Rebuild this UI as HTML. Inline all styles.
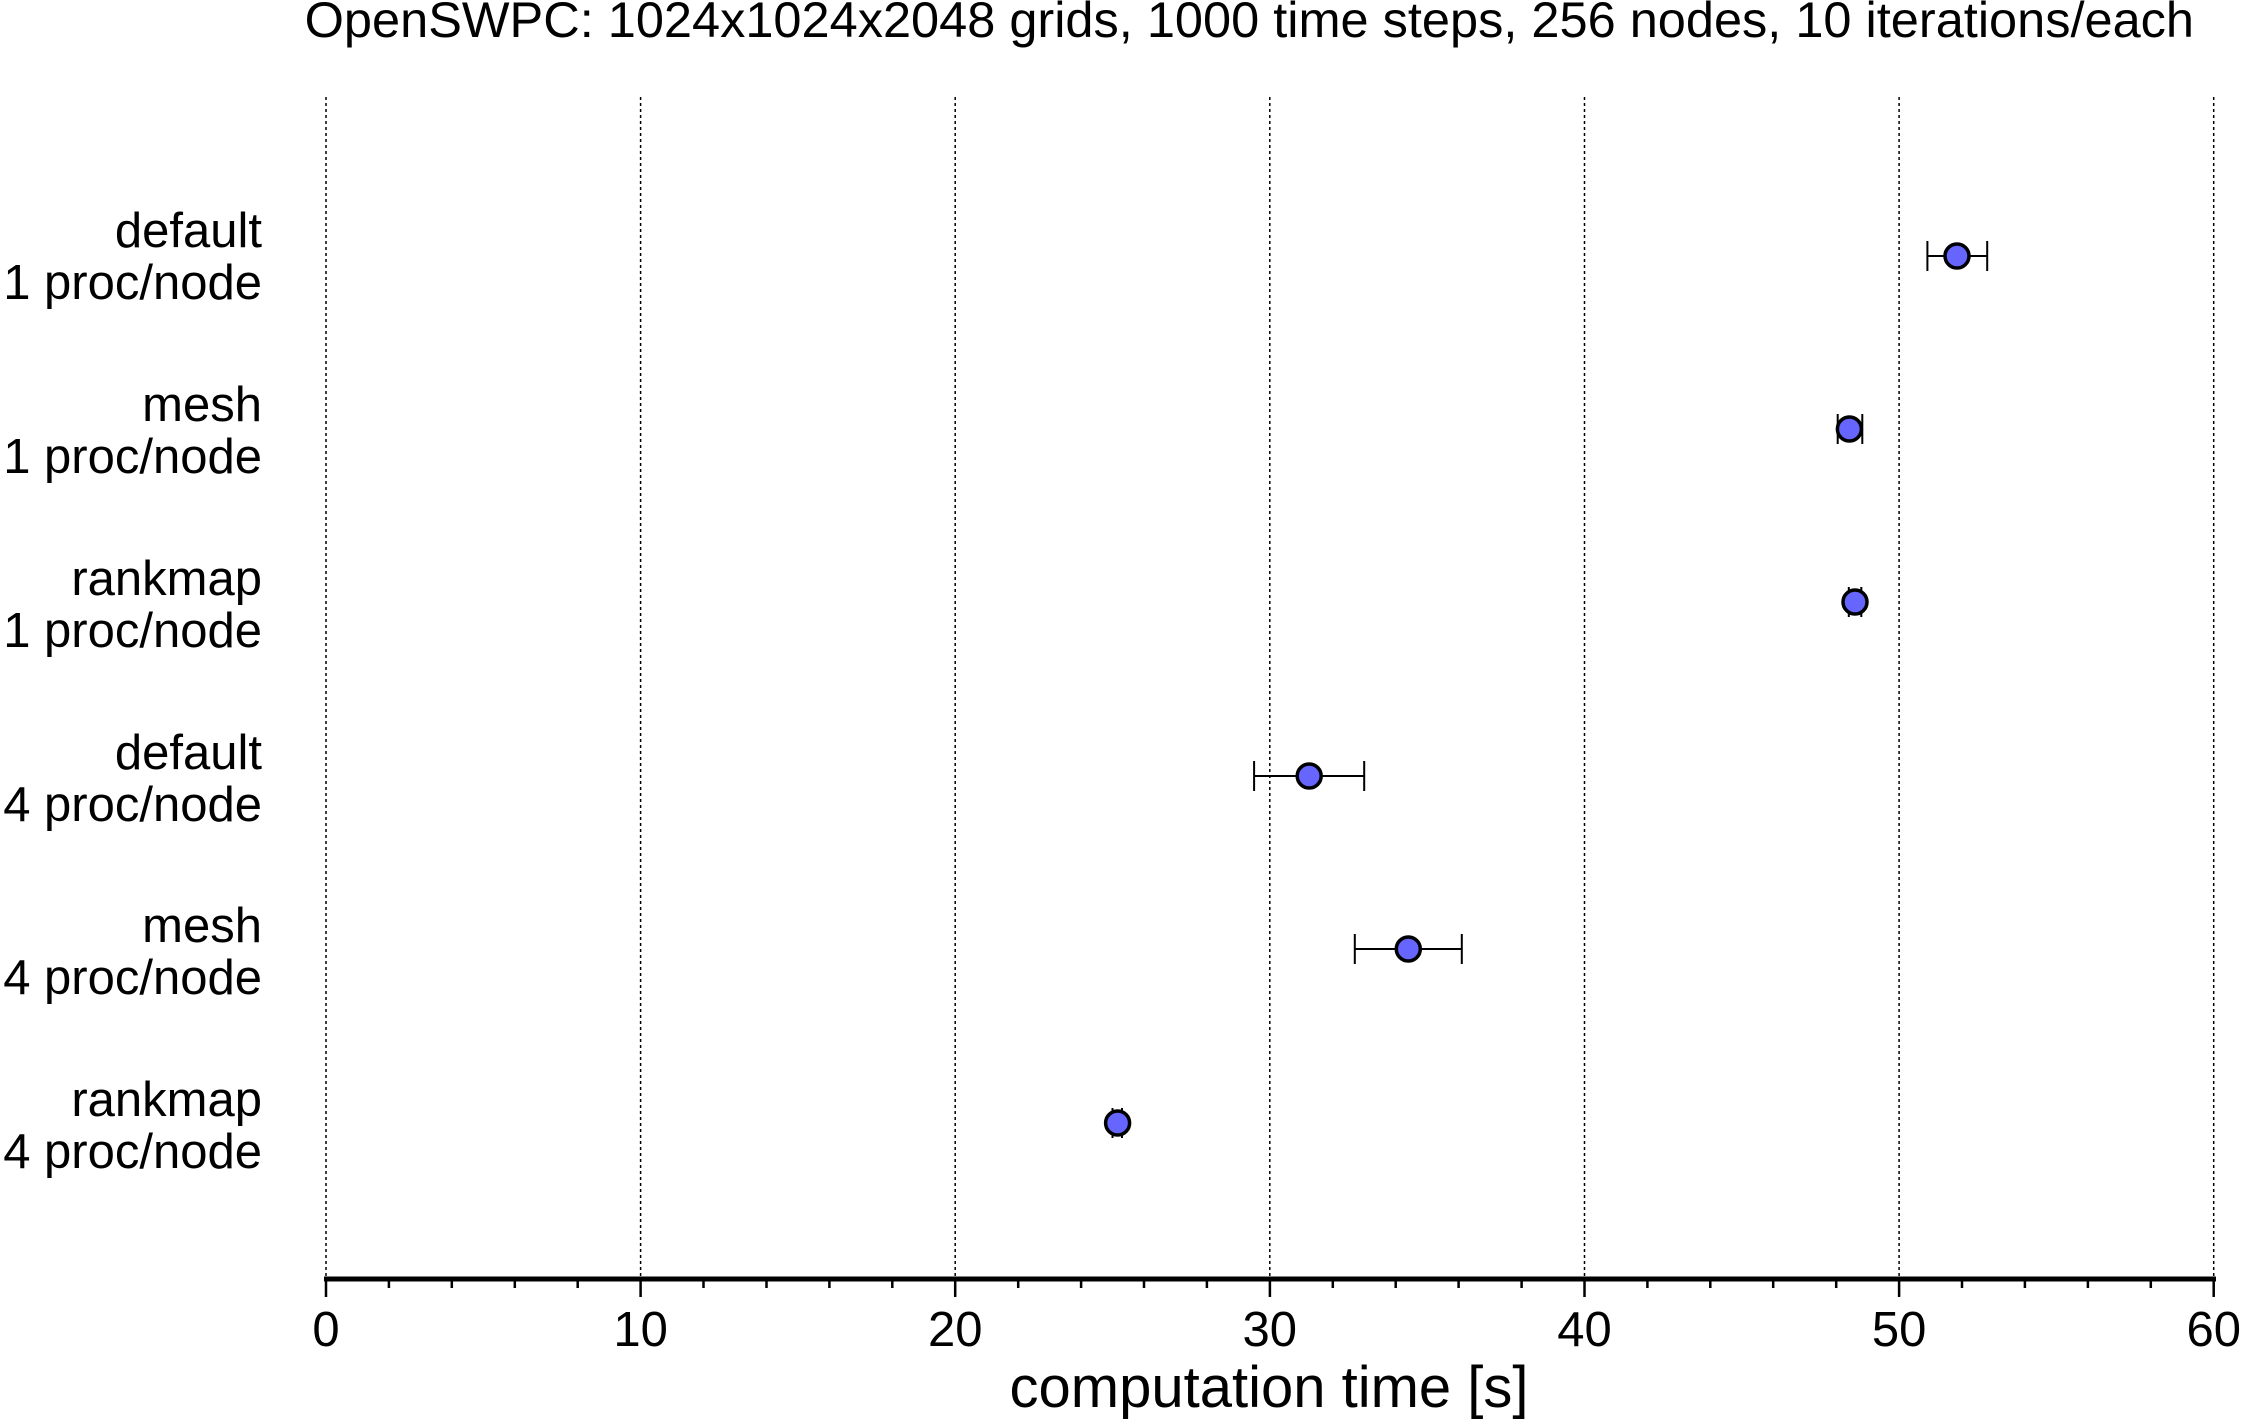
<!DOCTYPE html>
<html><head><meta charset="utf-8"><style>body{margin:0;background:#fff}</style></head><body>
<svg width="2241" height="1422" xmlns="http://www.w3.org/2000/svg" font-family="Liberation Sans, sans-serif">
<rect width="2241" height="1422" fill="#fff"/>
<text x="2194" y="37" font-size="50.5" text-anchor="end">OpenSWPC: 1024x1024x2048 grids, 1000 time steps, 256 nodes, 10 iterations/each</text>
<g stroke="#000" stroke-width="1.5" stroke-dasharray="3,3">
<line x1="326" y1="97" x2="326" y2="1279"/><line x1="640.6" y1="97" x2="640.6" y2="1279"/><line x1="955.2" y1="97" x2="955.2" y2="1279"/><line x1="1269.8" y1="97" x2="1269.8" y2="1279"/><line x1="1584.5" y1="97" x2="1584.5" y2="1279"/><line x1="1899.1" y1="97" x2="1899.1" y2="1279"/><line x1="2213.7" y1="97" x2="2213.7" y2="1279"/>
</g>
<line x1="324" y1="1279" x2="2216" y2="1279" stroke="#000" stroke-width="5"/>
<path stroke="#000" stroke-width="2.5" fill="none" d="M326 1279v18M640.6 1279v18M955.2 1279v18M1269.9 1279v18M1584.5 1279v18M1899.1 1279v18M2213.7 1279v18
M388.9 1279v9M451.8 1279v9M514.8 1279v9M577.7 1279v9M703.5 1279v9M766.5 1279v9M829.4 1279v9M892.3 1279v9M1018.2 1279v9M1081.1 1279v9M1144 1279v9M1206.9 1279v9M1332.8 1279v9M1395.7 1279v9M1458.6 1279v9M1521.6 1279v9M1647.4 1279v9M1710.3 1279v9M1773.2 1279v9M1836.2 1279v9M1962 1279v9M2024.9 1279v9M2087.9 1279v9M2150.8 1279v9"/>
<g font-size="49" text-anchor="middle">
<text x="326" y="1346">0</text><text x="640.6" y="1346">10</text><text x="955.2" y="1346">20</text><text x="1269.8" y="1346">30</text><text x="1584.5" y="1346">40</text><text x="1899.1" y="1346">50</text><text x="2213.7" y="1346">60</text>
</g>
<text x="1269" y="1407" font-size="58" text-anchor="middle">computation time [s]</text>
<g font-size="49" text-anchor="end">
<text x="262" y="247">default</text><text x="262" y="299">1 proc/node</text>
<text x="262" y="421">mesh</text><text x="262" y="473">1 proc/node</text>
<text x="262" y="595">rankmap</text><text x="262" y="647">1 proc/node</text>
<text x="262" y="769">default</text><text x="262" y="821">4 proc/node</text>
<text x="262" y="942">mesh</text><text x="262" y="994">4 proc/node</text>
<text x="262" y="1116">rankmap</text><text x="262" y="1168">4 proc/node</text>
</g>
<g stroke="#000" stroke-width="2" fill="none">
<path d="M1927.4 256H1987.2M1927.4 241v30M1987.2 241v30"/>
<path d="M1837.7 429H1862.3M1837.7 414v30M1862.3 414v30"/>
<path d="M1848.8 602H1861.3M1848.8 587v30M1861.3 587v30"/>
<path d="M1254.1 776H1364.2M1254.1 761v30M1364.2 761v30"/>
<path d="M1354.8 949H1461.8M1354.8 934v30M1461.8 934v30"/>
<path d="M1112.5 1123H1122M1112.5 1108v30M1122 1108v30"/>
</g>
<g stroke="#000" stroke-width="3.5" fill="#6666ff">
<circle cx="1957" cy="256" r="12"/>
<circle cx="1849.4" cy="429" r="12"/>
<circle cx="1855" cy="602" r="12"/>
<circle cx="1309.2" cy="776" r="12"/>
<circle cx="1408.3" cy="949" r="12"/>
<circle cx="1117.6" cy="1123" r="12"/>
</g>
</svg>
</body></html>
